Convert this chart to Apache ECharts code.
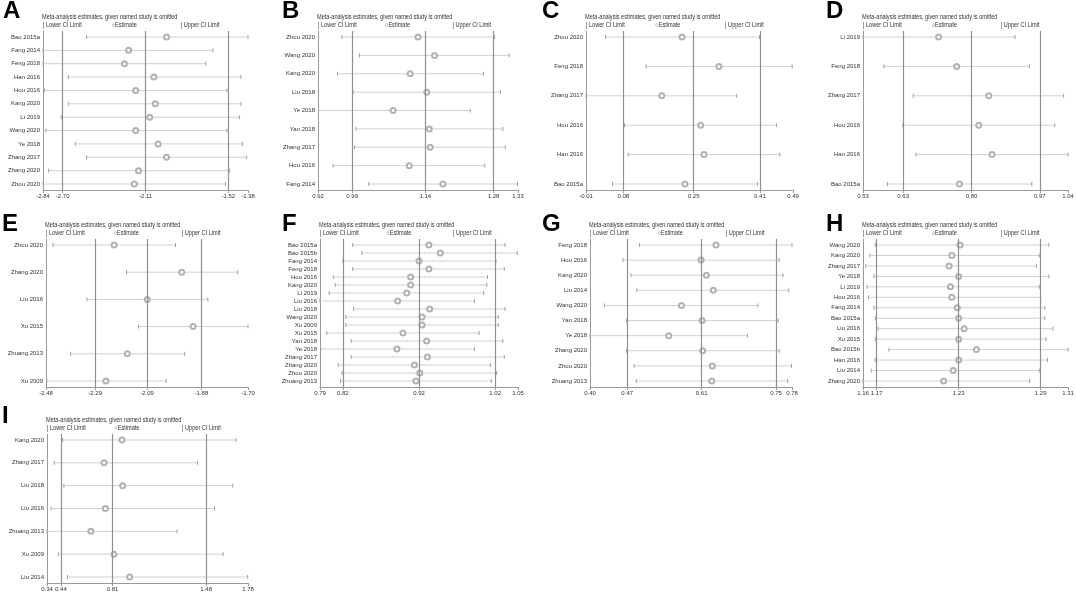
<!DOCTYPE html>
<html>
<head>
<meta charset="utf-8">
<script src="https://cdn.jsdelivr.net/npm/echarts@6/dist/echarts.min.js"></script>
<style>html,body{margin:0;padding:0;background:#fff;}#chart{width:1076px;height:592px;}</style>
</head>
<body>
<div id="chart"></div>
<script>
// ---------------- DATA ----------------
const studiesA = ['Bao 2015a','Fang 2014','Feng 2018','Han 2016','Hou 2016','Kang 2020','Li 2019','Wang 2020','Ye 2018','Zhang 2017','Zhang 2020','Zhou 2020'];
const lowerA = [-2.53,-2.84,-2.84,-2.66,-2.83,-2.66,-2.71,-2.82,-2.61,-2.53,-2.80,-2.84];
const estA   = [-1.96,-2.23,-2.26,-2.05,-2.18,-2.04,-2.08,-2.18,-2.02,-1.96,-2.16,-2.19];
const upperA = [-1.38,-1.63,-1.68,-1.43,-1.53,-1.43,-1.44,-1.53,-1.42,-1.39,-1.51,-1.54];
const ticksA = [-2.84,-2.70,-2.11,-1.52,-1.38];

const studiesB = ['Zhou 2020','Wang 2020','Kang 2020','Liu 2018','Ye 2018','Yan 2018','Zhang 2017','Hou 2016','Fang 2014'];
const lowerB = [0.969,1.005,0.960,0.992,0.921,0.998,0.995,0.951,1.024];
const estB   = [1.125,1.159,1.109,1.143,1.074,1.148,1.150,1.107,1.176];
const upperB = [1.282,1.312,1.259,1.294,1.232,1.299,1.304,1.262,1.329];
const ticksB = [0.92,0.99,1.14,1.28,1.33];

const studiesC = ['Zhou 2020','Feng 2018','Zhang 2017','Hou 2016','Han 2016','Bao 2015a'];
const lowerC = [0.037,0.135,-0.01,0.083,0.092,0.054];
const estC   = [0.222,0.311,0.173,0.267,0.275,0.229];
const upperC = [0.409,0.488,0.354,0.450,0.458,0.404];
const ticksC = [-0.01,0.08,0.25,0.41,0.49];

const studiesD = ['Li 2019','Feng 2018','Zhang 2017','Hou 2016','Han 2016','Bao 2015a'];
const lowerD = [0.530,0.582,0.655,0.629,0.662,0.591];
const estD   = [0.718,0.763,0.843,0.818,0.851,0.770];
const upperD = [0.908,0.944,1.029,1.007,1.040,0.950];
const ticksD = [0.53,0.63,0.80,0.97,1.04];

const studiesE = ['Zhou 2020','Zhang 2020','Liu 2016','Xu 2015','Zhuang 2013','Xu 2009'];
const lowerE = [-2.453,-2.169,-2.322,-2.123,-2.385,-2.477];
const estE   = [-2.217,-1.956,-2.089,-1.912,-2.166,-2.249];
const upperE = [-1.980,-1.740,-1.855,-1.700,-1.945,-2.016];
const ticksE = [-2.48,-2.29,-2.09,-1.88,-1.70];

const studiesF = ['Bao 2015a','Bao 2015b','Fang 2014','Feng 2018','Hou 2016','Kang 2020','Li 2019','Liu 2016','Liu 2018','Wang 2020','Xu 2009','Xu 2015','Yan 2018','Ye 2018','Zhang 2017','Zhang 2020','Zhou 2020','Zhuang 2013'];
const lowerF = [0.833,0.845,0.820,0.833,0.8075,0.810,0.802,0.790,0.834,0.824,0.824,0.799,0.831,0.791,0.831,0.814,0.819,0.817];
const estF   = [0.933,0.948,0.920,0.933,0.909,0.909,0.904,0.892,0.934,0.924,0.924,0.899,0.930,0.891,0.931,0.914,0.921,0.916];
const upperF = [1.033,1.049,1.021,1.032,1.010,1.009,1.005,0.993,1.033,1.024,1.024,0.999,1.030,0.993,1.032,1.014,1.022,1.015];
const ticksF = [0.79,0.82,0.92,1.02,1.05];

const studiesG = ['Feng 2018','Hou 2016','Kang 2020','Liu 2014','Wang 2020','Yan 2018','Ye 2018','Zhang 2020','Zhou 2020','Zhuang 2013'];
const lowerG = [0.493,0.462,0.477,0.488,0.427,0.469,0.400,0.469,0.483,0.487];
const estG   = [0.637,0.609,0.619,0.632,0.572,0.611,0.548,0.612,0.630,0.629];
const upperG = [0.780,0.756,0.763,0.774,0.716,0.754,0.696,0.756,0.779,0.772];
const ticksG = [0.40,0.47,0.61,0.75,0.78];

const studiesH = ['Wang 2020','Kang 2020','Zhang 2017','Ye 2018','Li 2019','Hou 2016','Fang 2014','Bao 2015a','Liu 2016','Xu 2015','Bao 2015b','Han 2016','Liu 2014','Zhang 2020'];
const lowerH = [1.169,1.165,1.162,1.168,1.163,1.164,1.168,1.169,1.171,1.169,1.179,1.169,1.166,1.160];
const estH   = [1.231,1.225,1.223,1.230,1.224,1.225,1.229,1.230,1.234,1.230,1.243,1.230,1.226,1.219];
const upperH = [1.296,1.289,1.287,1.296,1.289,1.290,1.293,1.293,1.299,1.294,1.310,1.295,1.289,1.282];
const ticksH = [1.16,1.17,1.23,1.29,1.31];

const studiesI = ['Kang 2020','Zhang 2017','Liu 2018','Liu 2016','Zhuang 2013','Xu 2009','Liu 2014'];
const lowerI = [0.452,0.392,0.461,0.369,0.340,0.421,0.487];
const estI   = [0.877,0.749,0.882,0.758,0.654,0.820,0.932];
const upperI = [1.695,1.419,1.671,1.540,1.272,1.602,1.778];
const ticksI = [0.34,0.44,0.81,1.48,1.78];

const panelLetters = ['A','B','C','D','E','F','G','H','I'];
const titleText = 'Meta-analysis estimates, given named study is omitted';
const legendTexts = ['| Lower CI Limit', '\u25CBEstimate', '| Upper CI Limit'];

// ---------------- LAYOUT ----------------
const layout = [
  {left:43,  top:31,  width:205, height:159, lx:3,   ly:11},
  {left:318, top:31,  width:200, height:159, lx:282, ly:11},
  {left:586, top:31,  width:207, height:159, lx:542, ly:11},
  {left:863, top:31,  width:205, height:159, lx:826, ly:11},
  {left:46,  top:239, width:202, height:148, lx:2,   ly:224},
  {left:320, top:239, width:198, height:148, lx:282, ly:224},
  {left:590, top:239, width:202, height:148, lx:542, ly:224},
  {left:863, top:239, width:205, height:148, lx:826, ly:224},
  {left:47,  top:434, width:201, height:149, lx:2,   ly:416}
];

const panels = [
  [studiesA, lowerA, estA, upperA, ticksA],
  [studiesB, lowerB, estB, upperB, ticksB],
  [studiesC, lowerC, estC, upperC, ticksC],
  [studiesD, lowerD, estD, upperD, ticksD],
  [studiesE, lowerE, estE, upperE, ticksE],
  [studiesF, lowerF, estF, upperF, ticksF],
  [studiesG, lowerG, estG, upperG, ticksG],
  [studiesH, lowerH, estH, upperH, ticksH],
  [studiesI, lowerI, estI, upperI, ticksI]
];

const FONT = "'Liberation Sans',Arial,sans-serif";
const TXT = '#333';
const MARGIN_PX = 6;
const SX = 0.86;

const grid = [], xAxis = [], yAxis = [], series = [], graphic = [];

function nearestTickLabel(ticks, v) {
  let best = ticks[0];
  ticks.forEach(t => { if (Math.abs(t - v) < Math.abs(best - v)) best = t; });
  return best.toFixed(2);
}

panels.forEach((p, i) => {
  const [studies, lower, est, upper, ticks] = p;
  const L = layout[i];
  const n = studies.length;
  const pad = (n - 1) * MARGIN_PX / (L.height - 2 * MARGIN_PX);
  const rows = studies.map((_, k) => k);

  grid.push({left: L.left, top: L.top, width: L.width, height: L.height, outerBoundsMode: 'none', containLabel: false});
  xAxis.push({
    type: 'value', gridIndex: i, min: ticks[0], max: ticks[ticks.length - 1],
    axisLine: {show: true, onZero: false, lineStyle: {color: '#9a9a9a', width: 1}},
    axisTick: {show: true, customValues: ticks, length: 3, lineStyle: {color: '#9a9a9a'}},
    axisLabel: {customValues: ticks, formatter: v => nearestTickLabel(ticks, v), fontSize: 6, fontFamily: FONT, color: TXT, margin: 3, hideOverlap: false},
    splitLine: {show: false}
  });
  yAxis.push({
    type: 'value', gridIndex: i, inverse: true, min: -pad, max: n - 1 + pad,
    axisLine: {show: true, onZero: false, lineStyle: {color: '#9a9a9a', width: 1}},
    axisTick: {show: false},
    axisLabel: {customValues: rows, formatter: v => studies[Math.round(v)], fontSize: 6, fontFamily: FONT, color: TXT, margin: 3},
    splitLine: {show: false}
  });

  series.push({
    type: 'custom', xAxisIndex: i, yAxisIndex: i, z: 2, silent: true,
    data: rows.map(k => [k, lower[k], est[k], upper[k]]),
    encode: {x: [1, 3], y: 0},
    renderItem: (params, api) => {
      const y = api.value(0);
      const a = api.coord([api.value(1), y]);
      const b = api.coord([api.value(3), y]);
      return {
        type: 'group',
        children: [
          {type: 'line', shape: {x1: a[0], y1: a[1], x2: b[0], y2: b[1]}, style: {stroke: '#d0d0d0', lineWidth: 1}},
          {type: 'line', shape: {x1: a[0], y1: a[1] - 2, x2: a[0], y2: a[1] + 2}, style: {stroke: '#a0a0a0', lineWidth: 1}},
          {type: 'line', shape: {x1: b[0], y1: b[1] - 2, x2: b[0], y2: b[1] + 2}, style: {stroke: '#a0a0a0', lineWidth: 1}}
        ]
      };
    },
    markLine: {
      silent: true, symbol: 'none', label: {show: false}, animation: false,
      lineStyle: {color: '#909090', width: 1.2, type: 'solid'},
      data: ticks.slice(1, 4).map(v => ({xAxis: v}))
    }
  });
  series.push({
    type: 'scatter', xAxisIndex: i, yAxisIndex: i, z: 3, silent: true,
    symbol: 'emptyCircle', symbolSize: 5,
    itemStyle: {color: '#a0a0a0', borderWidth: 0.8},
    data: rows.map(k => [est[k], k])
  });

  // panel letter
  graphic.push({type: 'text', x: L.lx, y: L.ly, silent: true,
    style: {text: panelLetters[i], fontSize: 24, fontWeight: 'bold', fontFamily: "'Liberation Sans',Arial,sans-serif", fill: '#000', verticalAlign: 'middle', align: 'left'}});
  // title
  graphic.push({type: 'text', x: L.left - 1, y: L.top - 14, scaleX: SX, silent: true,
    style: {text: titleText, fontSize: 6.5, fontFamily: FONT, fill: TXT, verticalAlign: 'middle', align: 'left'}});
  // legend
  [0, 0.335, 0.672].forEach((f, j) => {
    graphic.push({type: 'text', x: L.left + f * L.width, y: L.top - 6, scaleX: SX, silent: true,
      style: {text: legendTexts[j], fontSize: 6.5, fontFamily: FONT, fill: TXT, verticalAlign: 'middle', align: 'left'}});
  });
});

const chart = echarts.init(document.getElementById('chart'), null, {renderer: 'canvas'});
chart.setOption({
  animation: false,
  backgroundColor: '#fff',
  grid, xAxis, yAxis, series, graphic
});
</script>
</body>
</html>
